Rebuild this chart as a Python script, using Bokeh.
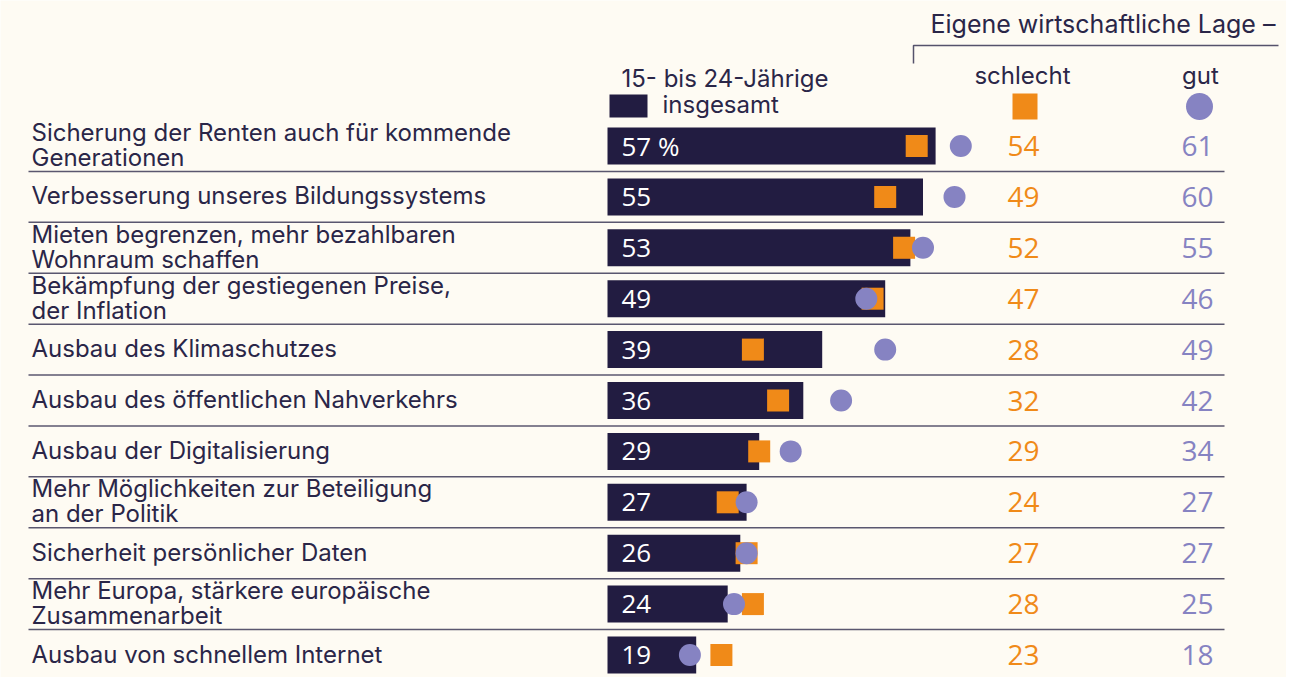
from bokeh.plotting import figure
from bokeh.models import Range1d, ColumnDataSource
from bokeh.core.properties import value
from bokeh.embed import file_html
from bokeh.resources import INLINE

categories = [
    "Sicherung der Renten auch für kommende\nGenerationen",
    "Verbesserung unseres Bildungssystems",
    "Mieten begrenzen, mehr bezahlbaren\nWohnraum schaffen",
    "Bekämpfung der gestiegenen Preise,\nder Inflation",
    "Ausbau des Klimaschutzes",
    "Ausbau des öffentlichen Nahverkehrs",
    "Ausbau der Digitalisierung",
    "Mehr Möglichkeiten zur Beteiligung\nan der Politik",
    "Sicherheit persönlicher Daten",
    "Mehr Europa, stärkere europäische\nZusammenarbeit",
    "Ausbau von schnellem Internet",
]
insgesamt = [57, 55, 53, 49, 39, 36, 29, 27, 26, 24, 19]
schlecht = [54, 49, 52, 47, 28, 32, 29, 24, 27, 28, 23]
gut = [61, 60, 55, 46, 49, 42, 34, 27, 27, 25, 18]

BG = "#fefbf3"
NAVY = "#221c41"
ORANGE = "#f08a18"
PURPLE = "#8683c2"
TEXT = "#2a2648"

W, H = 1286, 677
# screen-pixel helpers for layout only
X0, XS = 576.0, 6.3      # value 0 at screen x, px per unit
Y0, YS = 145.5, 50.9     # row 0 center at screen y, px per row


def sx(px):
    return (px - X0) / XS


def sy(py):
    return (py - Y0) / YS


n = len(categories)
idx = list(range(n))
src = ColumnDataSource(dict(
    y=idx, cat=categories, tot=insgesamt, sch=schlecht, gut=gut,
    tot_lbl=[f"{v} %" if i == 0 else str(v) for i, v in enumerate(insgesamt)],
    sch_lbl=[str(v) for v in schlecht], gut_lbl=[str(v) for v in gut],
))

p = figure(width=W, height=H, output_backend="svg", toolbar_location=None,
           x_range=Range1d(sx(0), sx(W)), y_range=Range1d(sy(H), sy(0)),
           min_border=0, background_fill_color=BG, border_fill_color=BG,
           outline_line_color=None)
p.axis.visible = False
p.grid.visible = False

# separators
sep_y = [i + 0.5 for i in idx[:-1]]
p.segment(x0=sx(28), x1=sx(1224), y0=sep_y, y1=sep_y, line_color="#3d3957",
          line_width=1.5, line_alpha=0.85)

# bars
BAR_START = sx(607)
p.hbar(y="y", left=BAR_START, right="tot", height=37 / YS, source=src,
       fill_color=NAVY, line_color=None)
p.text(x=sx(621), y="y", text="tot_lbl", source=src, text_color="white",
       text_font=value("Open Sans"), text_font_size="26px", text_baseline="middle")

# markers
p.scatter(x="sch", y="y", source=src, marker="square", size=22,
          fill_color=ORANGE, line_color=None)
p.scatter(x="gut", y="y", source=src, marker="circle", size=22,
          fill_color=PURPLE, line_color=None)

# category labels
p.text(x=sx(31), y="y", text="cat", source=src, text_color=TEXT,
       text_font=value("Inter"), text_font_size="24px", text_baseline="middle",
       text_line_height=0.87, y_offset=-1)

# value columns
p.text(x=sx(1023), y="y", text="sch_lbl", source=src, text_color=ORANGE,
       text_font=value("Open Sans"), text_font_size="28px", text_baseline="middle",
       text_align="center")
p.text(x=sx(1197), y="y", text="gut_lbl", source=src, text_color=PURPLE,
       text_font=value("Open Sans"), text_font_size="28px", text_baseline="middle",
       text_align="center")

# header
hdr = dict(text_color=TEXT, text_font=value("Inter"), text_baseline="middle")
p.text(x=[sx(930)], y=[sy(23)], text=["Eigene wirtschaftliche Lage –"],
       text_font_size="25px", **hdr)
p.line(x=[sx(913), sx(913), sx(1278)], y=[sy(63), sy(45), sy(45)],
       line_color="#55526b", line_width=1.5)
p.text(x=[sx(1022)], y=[sy(75)], text=["schlecht"], text_font_size="24px",
       text_align="center", **hdr)
p.text(x=[sx(1200)], y=[sy(75)], text=["gut"], text_font_size="24px",
       text_align="center", **hdr)
p.text(x=[sx(621)], y=[sy(78)], text=["15- bis 24-Jährige"], text_font_size="24px", **hdr)
p.text(x=[sx(662)], y=[sy(104)], text=["insgesamt"], text_font_size="24px", **hdr)

# legend keys
p.rect(x=[sx(628)], y=[sy(105.5)], width=38 / XS, height=23 / YS,
       fill_color=NAVY, line_color=None)
p.rect(x=[sx(1024.5)], y=[sy(106)], width=25 / XS, height=26 / YS,
       fill_color=ORANGE, line_color=None)
p.scatter(x=[sx(1199)], y=[sy(106)], marker="circle", size=27,
          fill_color=PURPLE, line_color=None)

html = file_html(p, INLINE)
html = html.replace("<body>", f'<body style="background:{BG}">', 1)
open("out.html", "w").write(html)
